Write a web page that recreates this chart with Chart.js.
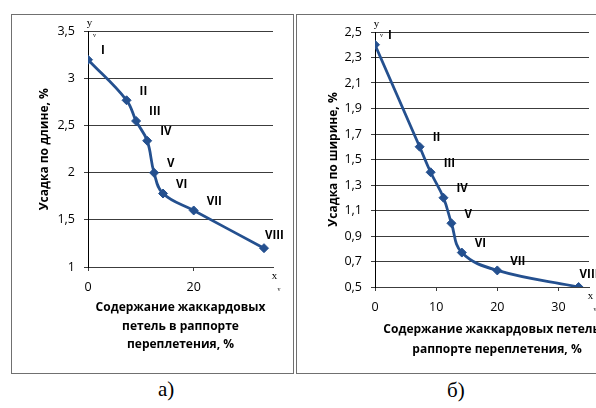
<!DOCTYPE html>
<html>
<head>
<meta charset="utf-8">
<script src="https://cdn.jsdelivr.net/npm/chart.js"></script>
<style>
  body { margin: 0; width: 596px; height: 408px; background: #fff; overflow: hidden; position: relative; }
  .box { position: absolute; border: 1px solid #707070; box-sizing: border-box; }
  canvas { position: absolute; }
  .cap { position: absolute; font-family: "Liberation Serif", serif; font-size: 21px; color: #000; line-height: 1; }
</style>
</head>
<body>
<div class="box" style="left:11px;top:14px;width:283px;height:360px"></div>
<div class="box" style="left:296px;top:14px;width:330px;height:360px"></div>
<canvas id="lengthChart" width="281" height="358" style="left:12px;top:15px"></canvas>
<canvas id="widthChart" width="319" height="358" style="left:297px;top:15px"></canvas>
<div class="cap" style="left:158px;top:379px">а)</div>
<div class="cap" style="left:447px;top:380px">б)</div>
<script>
// Содержание жаккардовых петель, % (общая ось x для обоих графиков)
const jacquardShare = [0, 7.3, 9.1, 11.2, 12.5, 14.2, 20, 33.3];
const lengthShrink = [3.2, 2.77, 2.55, 2.34, 2.0, 1.78, 1.6, 1.2];
const widthShrink = [2.4, 1.6, 1.4, 1.2, 1.0, 0.77, 0.63, 0.5];
const pointNames = ["I", "II", "III", "IV", "V", "VI", "VII", "VIII"];

// Tick values
const lengthYTicks = [1, 1.5, 2, 2.5, 3, 3.5];
const widthYTicks = [0.5, 0.7, 0.9, 1.1, 1.3, 1.5, 1.7, 1.9, 2.1, 2.3, 2.5];
const lengthXTicks = [0, 20];
const widthXTicks = [0, 10, 20, 30];

const lengthYTitle = "Усадка по длине, %";
const widthYTitle = "Усадка по ширине, %";
const lengthXTitle = ["Содержание жаккардовых", "петель в раппорте", "переплетения, %"];
const widthXTitle = ["Содержание жаккардовых петель в", "раппорте переплетения, %"];

const LINE_COLOR = "#24508f";
const GRID_COLOR = "#3c3c3c";

// Roman numerals next to the points
const pointTags = {
  id: "pointTags",
  afterDatasetsDraw(chart) {
    const { ctx, chartArea } = chart;
    const meta = chart.getDatasetMeta(0);
    ctx.save();
    ctx.font = "bold 11.5px 'Open Sans'";
    ctx.fillStyle = "#000";
    ctx.textBaseline = "middle";
    ctx.textAlign = "left";
    meta.data.forEach((pt, i) => {
      const text = pointNames[i];
      const w = ctx.measureText(text).width;
      let x = pt.x + 13;
      let y = pt.y - 9;
      if (x + w > chartArea.right + 12) {
        x = pt.x + 1;
        y = pt.y - 12;
      }
      ctx.fillText(text, x, y);
    });
    ctx.restore();
  }
};

// small "y"/"x" marks at the axis ends and the x axis title
const axisNotes = {
  id: "axisNotes",
  afterDraw(chart, args, opts) {
    const { ctx, chartArea: a } = chart;
    ctx.save();
    ctx.fillStyle = "#000";
    ctx.textAlign = "center";
    ctx.textBaseline = "middle";
    ctx.font = "11px 'Liberation Serif'";
    ctx.fillText("y", a.left + 1.5, a.top - 8);
    ctx.fillText("x", a.right + 1.5, a.bottom + 9.5);
    ctx.font = "6px 'Liberation Serif'";
    ctx.fillText("v", a.left + 6.5, a.top + 3.5);
    ctx.fillText("v", a.right + 6, a.bottom + 22.5);

    ctx.font = "bold 12px 'Open Sans'";
    const cx = (a.left + a.right) / 2 + opts.dx;
    opts.lines.forEach((t, i) => {
      ctx.fillText(t, cx, a.bottom + opts.first + i * opts.step);
    });
    ctx.restore();
  }
};

// 1 -> "1", 1.5 -> "1,5"; fixed digits if given
function fmt(v, digits) {
  const s = digits == null ? String(v) : v.toFixed(digits);
  return s.replace(".", ",");
}

function makeChart(id, values, setup) {
  const ctx = document.getElementById(id).getContext("2d");
  return new Chart(ctx, {
    type: "line",
    data: {
      datasets: [
        {
          data: jacquardShare.map((x, i) => ({ x: x, y: values[i] })),
          borderColor: LINE_COLOR,
          backgroundColor: LINE_COLOR,
          borderWidth: 2.8,
          tension: 0.4,
          pointStyle: "rectRot",
          pointRadius: 4.5,
          pointBorderWidth: 1,
          fill: false
        }
      ]
    },
    options: {
      responsive: false,
      animation: false,
      layout: { padding: setup.padding },
      plugins: {
        legend: { display: false },
        tooltip: { enabled: false },
        axisNotes: { dx: setup.titleDx, lines: setup.xTitle, first: setup.titleFirst, step: setup.titleStep }
      },
      scales: {
        x: {
          type: "linear",
          min: 0,
          max: 35,
          afterBuildTicks: (scale) => { scale.ticks = setup.xTicks.map(v => ({ value: v })); },
          afterFit: (scale) => { scale.height = setup.xHeight; },
          grid: { drawOnChartArea: false, drawTicks: true, tickLength: 4, color: GRID_COLOR },
          border: { color: GRID_COLOR, width: 1 },
          ticks: {
            padding: 9,
            color: "#000",
            font: { family: "'Open Sans'", size: 12.5 },
            maxRotation: 0,
            callback: (v) => fmt(v)
          }
        },
        y: {
          min: setup.yMin,
          max: setup.yMax,
          afterBuildTicks: (scale) => { scale.ticks = setup.yTicks.map(v => ({ value: v })); },
          afterFit: (scale) => { scale.width = setup.yWidth; },
          grid: { color: GRID_COLOR, lineWidth: 1, drawTicks: true, tickLength: 4 },
          border: { color: "#000", width: 1 },
          ticks: {
            padding: 9,
            color: "#000",
            font: { family: "'Open Sans'", size: 12.5 },
            callback: (v) => fmt(v, setup.yDigits)
          },
          title: {
            display: true,
            text: setup.yTitle,
            color: "#000",
            font: { family: "'Open Sans'", size: 12, weight: "bold", lineHeight: 1.2 },
            padding: { top: setup.yTitlePad, bottom: 0 }
          }
        }
      }
    },
    plugins: [pointTags, axisNotes]
  });
}

makeChart("lengthChart", lengthShrink, {
  padding: { top: 16, right: 20, left: 0, bottom: 0 },
  yWidth: 76,
  xHeight: 106,
  yMin: 1,
  yMax: 3.5,
  yTicks: lengthYTicks,
  xTicks: lengthXTicks,
  yDigits: null,
  yTitle: lengthYTitle,
  yTitlePad: 25,
  xTitle: lengthXTitle,
  titleDx: 0,
  titleFirst: 41,
  titleStep: 18.4
});

makeChart("widthChart", widthShrink, {
  padding: { top: 17, right: 27, left: 0, bottom: 0 },
  yWidth: 78,
  xHeight: 86,
  yMin: 0.5,
  yMax: 2.5,
  yTicks: widthYTicks,
  xTicks: widthXTicks,
  yDigits: 1,
  yTitle: widthYTitle,
  yTitlePad: 29,
  xTitle: widthXTitle,
  titleDx: 15,
  titleFirst: 43,
  titleStep: 20
});
</script>
</body>
</html>
